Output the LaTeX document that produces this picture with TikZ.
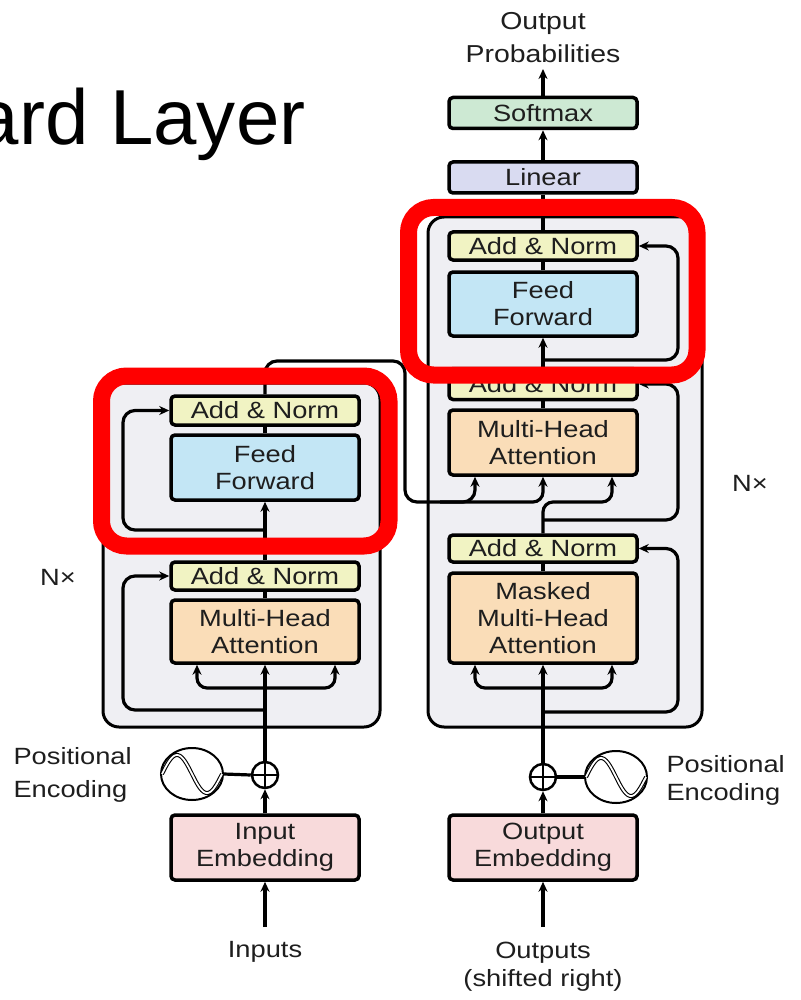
\documentclass[tikz,border=0pt]{standalone}
\usepackage{fontspec}
\setmainfont{Liberation Sans}
\newfontfamily\diagfont{Liberation Sans}[FakeStretch=1.16]
\usetikzlibrary{shapes.geometric,arrows.meta}

\definecolor{ink}{HTML}{1E1E1E}
\definecolor{normfill}{HTML}{F1F3C3}
\definecolor{fffill}{HTML}{C3E6F5}
\definecolor{attfill}{HTML}{FADDB8}
\definecolor{embfill}{HTML}{F8DADB}
\definecolor{linfill}{HTML}{D9DBF1}
\definecolor{softfill}{HTML}{CDE9D3}
\definecolor{stackfill}{HTML}{EFEFF3}
\definecolor{hred}{HTML}{FF0000}

\begin{document}
\begin{tikzpicture}[x=1pt,y=-1pt,
  txt/.style={font={\diagfont\fontsize{23.5}{27}\selectfont}, text=ink, align=center},
  box/.style={txt, draw=black, line width=3.5pt, rounded corners=4pt, minimum width=188pt, inner sep=0pt},
  link/.style={line width=3.2pt, line join=round},
  arr/.style={link, -{Stealth[length=10pt,width=9pt]}},
  stack/.style={draw=black, line width=3pt, fill=stackfill, rounded corners=16pt},
  plusnode/.style={circle, draw=black, line width=2.5pt, minimum size=26pt, inner sep=0pt},
  wave/.style={ellipse, draw=black, line width=2pt, minimum width=62pt, minimum height=52pt, inner sep=0pt},
  highlight/.style={draw=hred, line width=17pt, rounded corners=25pt}
]
\useasboundingbox (0,0) rectangle (800,1000);

% heading
\node[font={\fontsize{78}{90}\selectfont}, anchor=base east] (title) at (309,145) {ard Layer};

% encoder and decoder stacks
\draw[stack] (103,383) rectangle (380,727);
\draw[stack] (428,217) rectangle (702,727);

% ---------- decoder ----------
\node[box, fill=softfill, minimum height=31pt] (soft) at (543,113) {Softmax};
\node[box, fill=linfill, minimum height=31pt] (lin) at (543,177.5) {Linear};
\node[box, fill=normfill, minimum height=28pt] (dan3) at (543,246) {Add \& Norm};
\node[box, fill=fffill, minimum height=64pt] (dff) at (543,304) {Feed\\Forward};
\node[box, fill=normfill, minimum height=31pt] (dan2) at (543,384) {Add \& Norm};
\node[box, fill=attfill, minimum height=65pt] (dmha) at (543,442.5) {Multi-Head\\Attention};
\node[box, fill=normfill, minimum height=27pt] (dan1) at (543,548.5) {Add \& Norm};
\node[box, fill=attfill, minimum height=90pt] (dmmha) at (543,618) {Masked\\Multi-Head\\Attention};
\node[box, fill=embfill, minimum height=65pt] (oemb) at (543,847.5) {Output\\Embedding};
\node[plusnode] (dplus) at (543,777) {};
\node[wave] (dpe) at (616,777) {};

\node[txt, font={\diagfont\fontsize{24.5}{33}\selectfont}] (outprob) at (543,38) {Output\\Probabilities};
\coordinate (probtip) at (543,69);
\node[txt, font={\diagfont\fontsize{23.5}{28}\selectfont}] (outs) at (543,967) {Outputs\\(shifted right)};
\coordinate (outsrc) at (543,927);
\node[txt, align=left, anchor=west, font={\diagfont\fontsize{23.5}{28}\selectfont}] (dpelbl) at (663,780) {Positional\\Encoding};
\node[txt] (dnx) at (750,483) {N×};

\draw[arr] (soft.north) -- (probtip);
\draw[arr] (lin.north) -- (soft.south);
\draw[link] (dan3.north) -- (lin.south);
\draw[link] (dff.north) -- (dan3.south);
\draw[arr] (dan2.north) -- (dff.south);
\draw[arr, rounded corners=12pt] (543,360) -- (678,360) -- (678,246) -- (dan3.east);
\draw[link] (dmha.north) -- (dan2.south);
\draw[arr, rounded corners=12pt] (543,520) -- (678,520) -- (678,384) -- (dan2.east);
\draw[arr, rounded corners=10pt] (dan1.north) -- (543,502) -- (612,502) -- ([xshift=69pt]dmha.south);
\draw[link] (dmmha.north) -- (dan1.south);
\draw[arr] (dplus.north) -- (dmmha.south);
\draw[arr, rounded corners=10pt] (543,688) -- (475,688) -- ([xshift=-68pt]dmmha.south);
\draw[arr, rounded corners=10pt] (543,688) -- (612,688) -- ([xshift=69pt]dmmha.south);
\draw[arr, rounded corners=12pt] (543,712) -- (678,712) -- (678,548.5) -- (dan1.east);
\draw[arr] (oemb.north) -- (dplus.south);
\draw[arr] (outsrc) -- (oemb.south);
\draw[link] (dplus.east) -- (dpe.west);

% ---------- encoder ----------
\node[box, fill=normfill, minimum height=29pt] (ean2) at (265,410.5) {Add \& Norm};
\node[box, fill=fffill, minimum height=65pt] (eff) at (265,467.5) {Feed\\Forward};
\node[box, fill=normfill, minimum height=28pt] (ean1) at (265,576) {Add \& Norm};
\node[box, fill=attfill, minimum height=63pt] (emha) at (265,631.5) {Multi-Head\\Attention};
\node[box, fill=embfill, minimum height=65pt] (iemb) at (265,847.5) {Input\\Embedding};
\node[plusnode] (eplus) at (265,775) {};
\node[wave] (epe) at (192,774) {};

\node[txt] (ins) at (265,952) {Inputs};
\coordinate (insrc) at (265,927);
\node[txt, align=left, anchor=west, font={\diagfont\fontsize{23.5}{33}\selectfont}] (epelbl) at (10,775) {Positional\\Encoding};
\node[txt] (enx) at (58,577) {N×};

\draw[arr] (eplus.north) -- (emha.south);
\draw[arr, rounded corners=10pt] (265,688) -- (197,688) -- ([xshift=-68pt]emha.south);
\draw[arr, rounded corners=10pt] (265,688) -- (335,688) -- ([xshift=70pt]emha.south);
\draw[arr, rounded corners=12pt] (265,710) -- (123,710) -- (123,576) -- (ean1.west);
\draw[link] (emha.north) -- (ean1.south);
\draw[arr] (ean1.north) -- (eff.south);
\draw[arr, rounded corners=12pt] (265,530) -- (123,530) -- (123,410.5) -- (ean2.west);
\draw[link] (eff.north) -- (ean2.south);
\draw[arr] (iemb.north) -- (eplus.south);
\draw[arr] (insrc) -- (iemb.south);
\draw[link] (epe.east) -- (eplus.west);

% encoder output feeding the decoder attention
\draw[arr, rounded corners=12pt] (ean2.north) -- (265,361) -- (405,361) -- (405,502) -- (475,502) -- ([xshift=-68pt]dmha.south);
\draw[arr, rounded corners=10pt] (440,502) -- (543,502) -- (dmha.south);

% plus signs and sine glyphs
\foreach \p in {eplus,dplus}
  \draw[line width=2pt] (\p.north) -- (\p.south) (\p.west) -- (\p.east);
\foreach \w in {epe,dpe}{
  \begin{scope}[shift={(\w.center)}]
    \draw[line width=1.1pt, double, double distance=1.8pt]
      plot[domain=-30:30, samples=49, smooth] (\x,{-19*sin(6*(\x+30))});
  \end{scope}
}

% highlighted feed-forward sublayers
\draw[highlight] (101.5,376) rectangle (389,546);
\draw[highlight] (408.5,207.5) rectangle (697,375);
\end{tikzpicture}
\end{document}
